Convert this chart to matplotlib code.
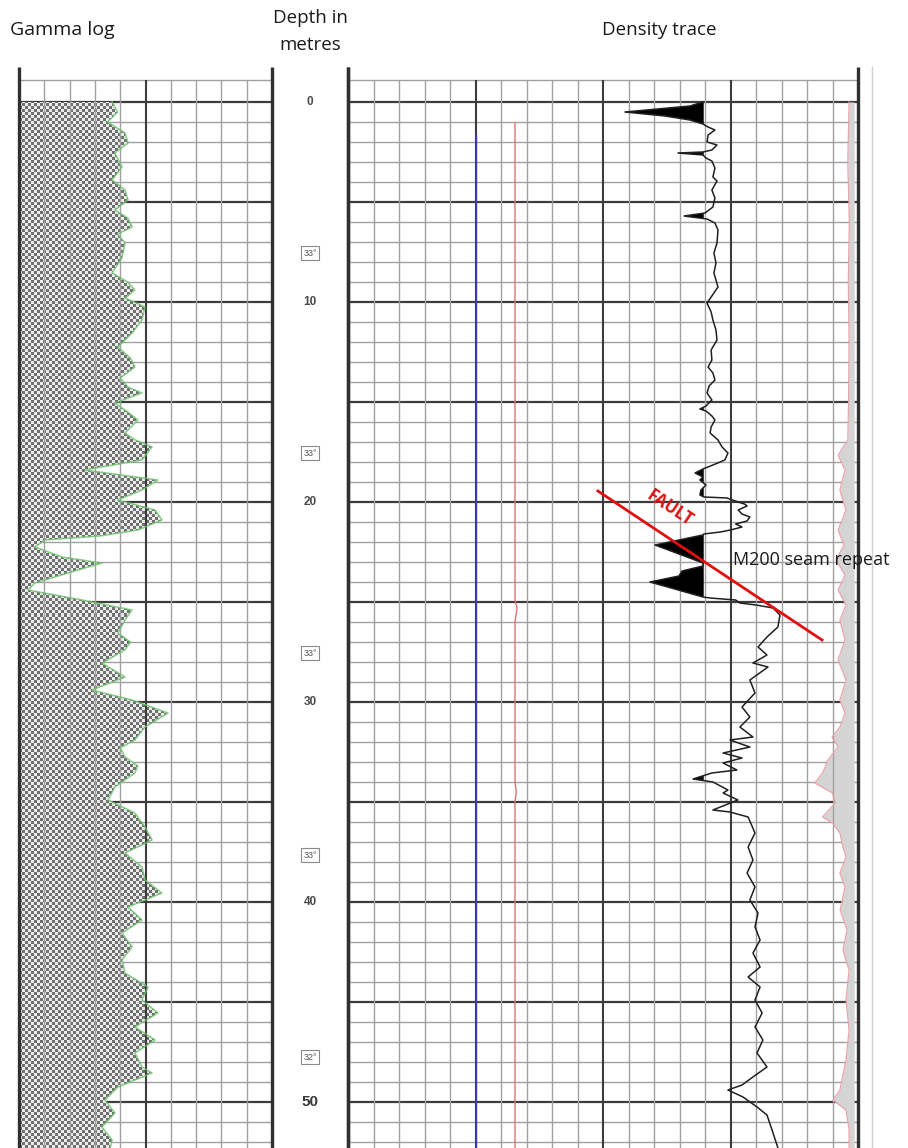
import matplotlib
matplotlib.use('Agg')
import matplotlib.pyplot as plt
from matplotlib.colors import ListedColormap
import numpy as np

# ---------------- data ----------------
# Gamma log (track divisions 0-10) vs depth (m)
gamma_depth = [0.0, 0.5, 1.0, 1.55, 2.05, 2.55, 3.25, 3.9, 4.4, 4.9, 5.4, 5.8, 6.25, 6.6, 7.05, 7.8,
               8.55, 9.0, 9.4, 9.8, 10.25, 10.9, 11.55, 12.25, 12.8, 13.25, 13.8, 14.25, 14.55, 15.05,
               15.5, 15.9, 16.55, 16.9, 17.25, 17.9, 18.4, 18.9, 19.4, 19.9, 20.4, 20.9, 21.4, 21.7,
               21.9, 22.25, 22.75, 23.05, 23.55, 24.05, 24.4, 24.9, 25.4, 25.9, 26.55, 27.0, 27.4,
               28.05, 28.75, 29.4, 29.9, 30.55, 31.25, 31.9, 32.3, 32.75, 33.2, 33.55, 34.25, 34.9,
               35.55, 36.25, 36.9, 37.55, 38.25, 38.9, 39.55, 40.25, 40.9, 41.55, 42.25, 42.9, 43.55,
               44.25, 44.9, 45.55, 46.25, 46.9, 47.55, 48.25, 48.55, 49.25, 49.9, 50.55, 51.25, 51.9, 52.3]
gamma_value = [3.68, 3.9, 3.5, 4.19, 4.31, 3.79, 4.07, 3.68, 4.19, 4.31, 3.79, 4.3, 4.47, 3.9, 4.19, 4.07,
               3.68, 4.3, 4.58, 4.2, 4.98, 4.86, 4.47, 3.91, 4.4, 4.58, 4.0, 4.31, 4.86, 3.79,
               4.3, 4.70, 4.19, 4.6, 5.26, 4.86, 2.6, 5.49, 4.86, 3.91, 5.38, 5.65, 4.70, 3.2,
               1.03, 0.63, 1.70, 3.28, 1.94, 0.63, 0.36, 2.49, 4.47, 4.19, 3.91, 4.4, 4.19,
               3.28, 4.19, 2.89, 4.47, 5.89, 4.98, 4.58, 4.0, 4.19, 4.7, 4.58, 3.79, 3.52,
               4.58, 4.98, 5.26, 4.19, 4.86, 4.98, 5.65, 4.31, 4.86, 4.07, 4.47, 4.07, 4.19,
               5.10, 4.86, 5.49, 4.58, 5.38, 4.58, 4.86, 5.26, 3.91, 3.40, 3.79, 3.28, 3.68, 3.6]

# Density trace (track divisions 0-20) vs depth (m)
dens_depth = [0.0, 0.2, 0.5, 0.7, 0.9, 1.1, 1.25, 1.4, 1.65, 2.0, 2.15, 2.4, 2.5, 2.55, 2.65, 2.8,
              2.95, 3.3, 3.75, 3.95, 4.4, 4.8, 5.25, 5.55, 5.7, 5.85, 6.05, 6.4, 7.05, 7.55, 8.05,
              8.55, 9.25, 10.05, 10.5, 10.9, 11.4, 11.9, 12.4, 12.9, 13.25, 13.55, 13.9, 14.2, 14.55,
              14.9, 15.2, 15.35, 15.45, 15.7, 15.9, 16.25, 16.55, 16.9, 17.25, 17.55, 17.9, 18.15,
              18.35, 18.55, 18.75, 18.9, 19.15, 19.4, 19.65, 19.75, 19.8, 20.0, 20.1, 20.2, 20.4,
              20.6, 20.75, 20.95, 21.1, 21.25, 21.4, 21.5, 21.6, 21.65, 22.15, 23.05, 23.2, 23.45,
              23.7, 24.0, 24.75, 24.8, 24.9, 25.05, 25.15, 25.3, 25.65, 26.25, 26.75, 27.25, 27.65,
              28.05, 28.25, 28.9, 29.55, 30.25, 30.75, 31.25, 31.75, 31.9, 32.25, 32.55, 32.8, 33.05,
              33.4, 33.55, 33.85, 34.0, 34.4, 34.55, 34.9, 35.4, 35.5, 35.75, 36.55, 37.25, 37.9,
              38.55, 39.25, 39.9, 40.55, 41.25, 41.9, 42.55, 43.25, 43.75, 44.25, 44.9, 45.55, 46.25,
              46.9, 47.55, 48.25, 48.75, 49.15, 49.4, 49.75, 50.25, 50.65, 51.4, 52.3]
dens_value = [13.92, 13.41, 10.86, 12.43, 13.41, 13.92, 14.12, 14.39, 14.12, 14.08, 14.47, 14.27, 13.92,
              12.94, 13.92, 14.04, 14.27, 14.39, 14.31, 14.47, 14.27, 14.39, 14.31, 14.0, 13.18, 14.08,
              14.39, 14.51, 14.47, 14.35, 14.43, 14.35, 14.51, 14.08, 14.24, 14.31, 14.43, 14.47, 14.24,
              14.27, 14.12, 14.31, 14.39, 14.16, 14.08, 14.27, 14.04, 13.80, 14.04, 14.27, 14.39, 14.24,
              14.2, 14.51, 14.67, 14.9, 14.78, 14.31, 13.92, 13.61, 13.92, 13.8, 14.04, 13.84, 13.8,
              13.96, 14.86, 15.3, 15.55, 15.65, 15.3, 15.45, 15.76, 15.65, 15.2, 15.45, 15.0, 14.6,
              13.95, 13.92, 12.04, 13.92, 13.92, 13.1, 12.98, 11.84, 13.92, 14.2, 15.2, 15.37, 16.0,
              16.67, 16.94, 16.86, 16.43, 16.08, 16.43, 15.88, 16.47, 15.76, 15.96, 15.45, 15.76, 15.37,
              15.88, 14.98, 15.76, 14.71, 15.45, 14.71, 15.25, 14.27, 13.53, 14.31, 14.9, 14.71, 15.29,
              14.31, 14.98, 15.69, 15.96, 15.69, 15.88, 15.65, 15.96, 15.76, 16.08, 15.96, 16.16, 15.88,
              16.16, 15.69, 16.16, 15.96, 16.24, 15.96, 16.27, 16.04, 16.43, 15.88, 15.45, 14.9, 15.49,
              16.04, 16.43, 16.63, 16.86]
coal_cutoff = 13.95

# Pink trace near right edge of density track
pink_depth = [0.0, 3.0, 6.0, 9.0, 12.0, 15.0, 16.9, 17.65, 18.4, 19.4, 20.4, 21.4, 22.15, 22.9, 23.65,
              24.4, 25.15, 25.9, 26.9, 27.9, 28.9, 29.9, 30.55, 31.25, 31.75, 32.25, 32.9, 33.5,
              34.05, 34.55, 35.05, 35.75, 36.05, 36.55, 37.25, 37.75, 38.55, 39.25, 40.4, 41.4,
              42.4, 43.4, 44.9, 46.4, 47.9, 49.4, 49.9, 50.4, 51.4, 52.3]
pink_value = [19.65, 19.6, 19.66, 19.62, 19.65, 19.63, 19.6, 19.22, 19.49, 19.29, 19.53, 19.22, 19.45,
              19.14, 19.49, 19.22, 19.53, 19.29, 19.49, 19.22, 19.53, 19.29, 19.49, 19.29, 18.98,
              19.22, 18.82, 18.63, 18.31, 19.0, 19.1, 18.61, 19.0, 19.29, 19.41, 19.53, 19.29,
              19.49, 19.3, 19.57, 19.41, 19.65, 19.53, 19.65, 19.53, 19.29, 19.02, 19.53, 19.65, 19.65]
pink_fill_edge = 19.85

# Reference curves
blue_depth = [1.65, 52.3]
blue_value = [5.02, 5.02]
red_depth = [1.05, 24.9, 25.3, 26.0, 34.0, 34.5, 35.0, 52.3]
red_value = [6.55, 6.55, 6.63, 6.55, 6.55, 6.6, 6.55, 6.55]

# Fault line (density track units)
fault_x = [9.80, 18.59]
fault_depth = [19.45, 26.9]

# Depth labels
depth_ticks = [0, 10, 20, 30, 40, 50]
angle_depths = [7.55, 17.55, 27.55, 37.65, 47.75]
angle_labels = ['33°', '33°', '33°', '33°', '32°']

# ---------------- layout ----------------
W, H = 908, 1148
TOP_PX = 67
D_TOP, D_BOT = -1.75, 52.3
HEADER = -1.1

fig = plt.figure(figsize=(W / 100, H / 100), dpi=100)
fig.patch.set_facecolor('white')


def ax_at(x0, x1):
    a = fig.add_axes([x0 / W, 0, (x1 - x0) / W, (H - TOP_PX) / H])
    a.set_ylim(D_BOT, D_TOP)
    a.axis('off')
    return a


THIN = '#a0a0a0'
THICK = '#3c3c3c'
BORDER = '#303030'


def draw_grid(ax, ncols, thick_cols):
    ax.set_xlim(0, ncols)
    for c in range(1, ncols):
        tk = c in thick_cols
        ax.vlines(c, HEADER, D_BOT, color=THICK if tk else THIN, lw=1.5 if tk else 1.0, zorder=4)
    ax.hlines(HEADER, 0, ncols, color=THIN, lw=1.0, zorder=1)
    for d in range(0, 53):
        tk = d % 5 == 0
        ax.hlines(d, 0, ncols, color=THICK if tk else THIN, lw=1.6 if tk else 1.0,
                  zorder=2 if tk else 1)
    for c in (0, ncols):
        ax.vlines(c, D_TOP, D_BOT, color=BORDER, lw=2.4, zorder=8, clip_on=False)


# Gamma track
ax_g = ax_at(19, 272)
draw_grid(ax_g, 10, [5])
ny, nx = 360, 84
checker = np.add.outer(np.arange(ny), np.arange(nx)) % 2
im = ax_g.imshow(checker, cmap=ListedColormap(['#ececec', '#707070']),
                 extent=(0, 10, D_BOT, D_TOP), interpolation='nearest', aspect='auto', zorder=3)
shape = ax_g.fill_betweenx(gamma_depth, 0, gamma_value, facecolor='none', lw=0, zorder=3)
im.set_clip_path(shape.get_paths()[0], transform=ax_g.transData)
ax_g.set_xlim(0, 10)
ax_g.set_ylim(D_BOT, D_TOP)
ax_g.plot(gamma_value, gamma_depth, color='#6cc46c', lw=1.1, alpha=0.8, zorder=5)

# Depth track
ax_d = ax_at(272, 348)
ax_d.set_xlim(0, 1)
ax_d.vlines(1, D_TOP, D_BOT, color=BORDER, lw=2.4, zorder=8, clip_on=False)
for d in depth_ticks:
    big = d == 50
    ax_d.text(0.5, d, str(d), ha='center', va='center', color='#3a3a3a' if big else '#4a4a4a',
              fontsize=11 if big else 8.5, fontweight='bold', family='Liberation Sans')
for d, lab in zip(angle_depths, angle_labels):
    ax_d.text(0.5, d, lab, ha='center', va='center', color='#555555', fontsize=6.5,
              family='Liberation Sans',
              bbox=dict(boxstyle='square,pad=0.3', facecolor='white', edgecolor='#8a8a8a', lw=0.8))

# Density track
ax_n = ax_at(348, 858)
draw_grid(ax_n, 20, [5, 10, 15])
dv = np.array(dens_value)
ax_n.fill_betweenx(dens_depth, dv, coal_cutoff, where=dv < coal_cutoff, interpolate=True,
                   color='black', lw=0, zorder=5)
ax_n.plot(dens_value, dens_depth, color='#202020', lw=1.1, zorder=6)
ax_n.fill_betweenx(pink_depth, pink_value, pink_fill_edge, color='#d4d4d4', lw=0, zorder=3)
ax_n.plot(pink_value, pink_depth, color='#e8a4ac', lw=0.9, zorder=5)
ax_n.plot(blue_value, blue_depth, color='#3a46a8', lw=1.0, zorder=5)
ax_n.plot(red_value, red_depth, color='#e07070', lw=1.0, zorder=5)
ax_n.plot(fault_x, fault_depth, color='#e01010', lw=2.0, zorder=9, clip_on=False)
ax_n.text(12.6, 20.3, 'FAULT', color='#e01010', fontsize=12, fontweight='bold',
          family='Open Sans', rotation=-33.6, ha='center', va='center', zorder=9,
          rotation_mode='anchor')
ax_n.text(15.1, 22.9, 'M200 seam repeat', color='#1a1a1a', fontsize=13, family='Open Sans',
          ha='left', va='center', zorder=9, clip_on=False)

# scan edge line
fig.add_artist(plt.Line2D([872 / W, 872 / W], [0, (H - TOP_PX) / H], color='#d0d0d0', lw=1.0))

# Titles
fig.text(10 / W, 1 - 30 / H, 'Gamma log', fontsize=14, family='Open Sans', color='#1a1a1a',
         ha='left', va='center')
fig.text(310 / W, 1 - 18 / H, 'Depth in', fontsize=13.5, family='Open Sans', color='#1a1a1a',
         ha='center', va='center')
fig.text(310 / W, 1 - 45 / H, 'metres', fontsize=13.5, family='Open Sans', color='#1a1a1a',
         ha='center', va='center')
fig.text(659 / W, 1 - 30 / H, 'Density trace', fontsize=13.5, family='Open Sans', color='#1a1a1a',
         ha='center', va='center')

fig.savefig('out.png', dpi=100)
